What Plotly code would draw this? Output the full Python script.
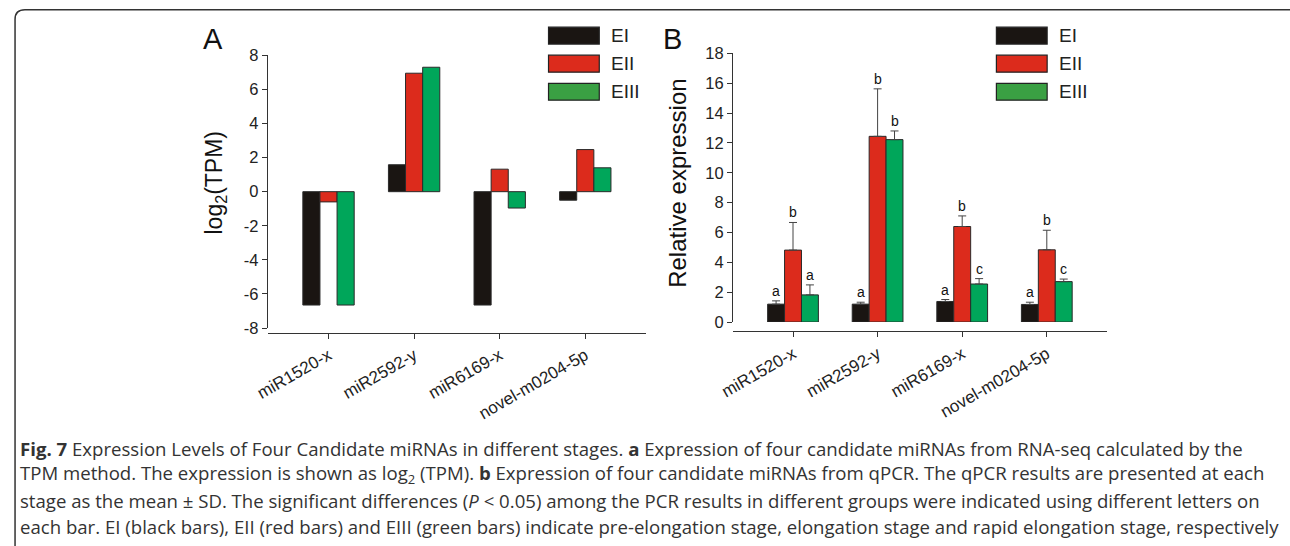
import plotly.graph_objects as go

W, H = 1290, 546
# the plot div sits inside the page's 8px body margin and the page view is
# fitted back to the window, so layout positions are converted from page pixels
BODY = 8
SX = (W + BODY) / W
SY = (H + 2 * BODY) / H

# ---- data ----
mirnas = ["miR1520-x", "miR2592-y", "miR6169-x", "novel-m0204-5p"]
stages = ["EI", "EII", "EIII"]

# Panel A: log2(TPM) from RNA-seq
tpm_ei = [-6.65, 1.58, -6.65, -0.5]
tpm_eii = [-0.6, 6.95, 1.32, 2.47]
tpm_eiii = [-6.65, 7.3, -0.96, 1.4]

# Panel B: qPCR relative expression (mean, SD)
qpcr_ei = [1.2, 1.2, 1.38, 1.18]
qpcr_eii = [4.82, 12.44, 6.4, 4.84]
qpcr_eiii = [1.82, 12.22, 2.55, 2.71]
sd_ei = [0.22, 0.13, 0.13, 0.15]
sd_eii = [1.85, 3.18, 0.71, 1.31]
sd_eiii = [0.67, 0.58, 0.36, 0.17]
letters_ei = ["a", "a", "a", "a"]
letters_eii = ["b", "b", "b", "b"]
letters_eiii = ["a", "b", "c", "c"]

yticks_a = [-8, -6, -4, -2, 0, 2, 4, 6, 8]
yticks_b = [0, 2, 4, 6, 8, 10, 12, 14, 16, 18]

bar_colors = ["#1a1512", "#dc2b1c", "#00a65a"]
legend_colors = ["#1a1512", "#dc2b1c", "#3aa043"]
FONT = "Liberation Sans, Arial, sans-serif"


def px_x(p):
    """page x pixel -> paper fraction"""
    return (p * SX - BODY) / W


def px_y(p):
    """page y pixel (from top) -> paper fraction"""
    return 1 - (p * SY - BODY) / H


fig = go.Figure()

idx = list(range(len(mirnas)))
for name, vals, col in zip(stages, [tpm_ei, tpm_eii, tpm_eiii], bar_colors):
    fig.add_trace(go.Bar(
        x=idx, y=vals, name=name, marker=dict(color=col, line=dict(color="#2a2a2a", width=1)),
        xaxis="x", yaxis="y", showlegend=False))

for name, vals, sd, col in zip(stages, [qpcr_ei, qpcr_eii, qpcr_eiii],
                               [sd_ei, sd_eii, sd_eiii], bar_colors):
    fig.add_trace(go.Bar(
        x=idx, y=vals, name=name, marker=dict(color=col, line=dict(color="#2a2a2a", width=1)),
        error_y=dict(type="data", array=sd, arrayminus=[0] * len(sd), symmetric=False,
                     color="#444444", thickness=1, width=4),
        xaxis="x2", yaxis="y2", showlegend=False))

# x-axis geometry (page pixels)
xa0, xa1 = 262.9, 643.0
xb0, xb1 = 730.3, 1106.0
xrng = [-0.71, 3.71]

axis_common = dict(showline=True, linecolor="#333333", linewidth=1, ticks="outside",
                   ticklen=5, tickcolor="#333333", showgrid=False, zeroline=False,
                   tickfont=dict(family=FONT, size=16.5, color="#222222"))
xtick_font = dict(family=FONT, size=17, color="#222222")

fig.update_layout(
    width=W, height=H, margin=dict(l=0, r=0, t=0, b=0),
    paper_bgcolor="white", plot_bgcolor="white",
    barmode="group", bargap=0.4, bargroupgap=0,
    xaxis=dict(domain=[px_x(xa0), px_x(xa1)], range=xrng, anchor="free", position=px_y(333.3),
               tickvals=idx, ticktext=mirnas, tickangle=-30, **axis_common),
    yaxis=dict(domain=[px_y(328.3), px_y(54.3)], range=[-8, 8], anchor="x",
               tickvals=yticks_a, ticktext=[str(v) for v in yticks_a], **axis_common),
    xaxis2=dict(domain=[px_x(xb0), px_x(xb1)], range=xrng, anchor="free", position=px_y(331.7),
                tickvals=idx, ticktext=mirnas, tickangle=-30, **axis_common),
    yaxis2=dict(domain=[px_y(322.3), px_y(52.3)], range=[0, 18], anchor="x2",
                tickvals=yticks_b, ticktext=[str(v) for v in yticks_b], **axis_common),
)
fig.update_xaxes(tickfont=xtick_font)

ann = []
# significance letters over the error bars
offsets = [-0.2, 0.0, 0.2]
for off, vals, sd, lets in zip(offsets, [qpcr_ei, qpcr_eii, qpcr_eiii],
                               [sd_ei, sd_eii, sd_eiii],
                               [letters_ei, letters_eii, letters_eiii]):
    for i, (v, s, t) in enumerate(zip(vals, sd, lets)):
        ann.append(dict(x=i + off, y=v + s, xref="x2", yref="y2", text=t, showarrow=False,
                        xanchor="center", yanchor="bottom", yshift=0,
                        font=dict(family=FONT, size=14, color="#111111")))


def centred(x, y, text, size, angle=0):
    return dict(x=px_x(x), y=px_y(y), xref="paper", yref="paper", text=text,
                textangle=angle, showarrow=False, xanchor="center", yanchor="middle",
                font=dict(family=FONT, size=size, color="#111111"))


# panel letters and y-axis titles
ann.append(centred(208, 38, "A", 29))
ann.append(centred(670, 38, "B", 29))
ann.append(centred(210, 182, "log<sub>2</sub>(TPM)", 23, -90))
ann.append(centred(675, 182.5, "Relative expression", 24, -90))

shapes = []
# legends for both panels
for lx in (545, 995):
    for k, (name, col) in enumerate(zip(stages, legend_colors)):
        top = 26 + k * 28.2
        shapes.append(dict(type="rect", xref="paper", yref="paper",
                           x0=px_x(lx), x1=px_x(lx + 51), y0=px_y(top + 17), y1=px_y(top),
                           fillcolor=col, line=dict(color="#222222", width=1.2)))
        ann.append(dict(x=px_x(lx + 61), y=px_y(top + 8.5), xref="paper", yref="paper",
                        text=name, showarrow=False, xanchor="left", yanchor="middle",
                        font=dict(family=FONT, size=19, color="#222222")))

# figure caption
caption = [
    "<b>Fig. 7</b> Expression Levels of Four Candidate miRNAs in different stages. <b>a</b> "
    "Expression of four candidate miRNAs from RNA-seq calculated by the",
    "TPM method. The expression is shown as log<sub>2</sub> (TPM). <b>b</b> Expression of four "
    "candidate miRNAs from qPCR. The qPCR results are presented at each",
    "stage as the mean ± SD. The significant differences (<i>P</i> &lt; 0.05) among the PCR "
    "results in different groups were indicated using different letters on",
    "each bar. EI (black bars), EII (red bars) and EIII (green bars) indicate pre-elongation "
    "stage, elongation stage and rapid elongation stage, respectively",
]
for k, line in enumerate(caption):
    ann.append(dict(x=px_x(12), y=px_y(449 + k * 26.3), xref="paper", yref="paper",
                    text=line, showarrow=False, xanchor="left", yanchor="middle",
                    font=dict(family="Open Sans, sans-serif", size=18.6, color="#333333")))

# rounded frame around the figure
r = 10
fx0, fy0, fx1, fy1 = 9, 8.6, 1300, 560
rx, ry = r / W, r / H
X0, X1, Y0, Y1 = px_x(fx0), px_x(fx1), px_y(fy0), px_y(fy1)
path = (f"M {X0 + rx},{Y0} L {X1 - rx},{Y0} Q {X1},{Y0} {X1},{Y0 - ry} "
        f"L {X1},{Y1 + ry} Q {X1},{Y1} {X1 - rx},{Y1} L {X0 + rx},{Y1} "
        f"Q {X0},{Y1} {X0},{Y1 + ry} L {X0},{Y0 - ry} Q {X0},{Y0} {X0 + rx},{Y0} Z")
shapes.append(dict(type="path", xref="paper", yref="paper", path=path,
                   line=dict(color="#333333", width=1.5), layer="below"))

fig.update_layout(annotations=ann, shapes=shapes)
fig.write_html("out.html")
